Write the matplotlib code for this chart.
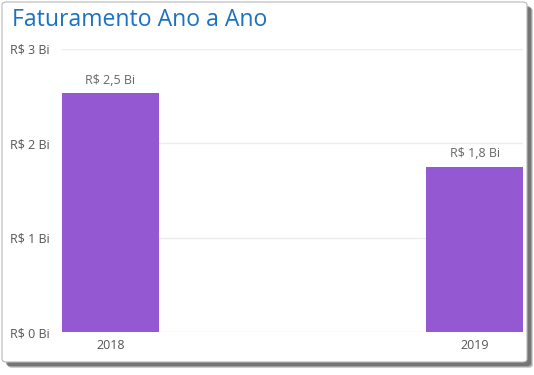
import matplotlib.pyplot as plt
from matplotlib.patches import FancyBboxPatch

anos = ['2018', '2019']
faturamento = [2.53, 1.75]
rotulos = ['R$ 2,5 Bi', 'R$ 1,8 Bi']
yticks = [0, 1, 2, 3]
ylabels = ['R$ 0 Bi', 'R$ 1 Bi', 'R$ 2 Bi', 'R$ 3 Bi']

plt.rcParams['font.family'] = ['Open Sans', 'DejaVu Sans']

W, H = 534, 375
fig = plt.figure(figsize=(W / 100, H / 100), dpi=100)

# card shadow + card
for off, a in [(6, 0.25), (5, 0.35), (4, 0.5)]:
    sh = FancyBboxPatch((2 / W + off / W, 1 - 362 / H - off / H), 525 / W, 360 / H,
                        boxstyle='round,pad=0,rounding_size=0.008',
                        transform=fig.transFigure, fc='#4a4a4a', ec='none', alpha=a,
                        zorder=-2)
    fig.patches.append(sh)
card = FancyBboxPatch((2 / W, 1 - 362 / H), 525 / W, 360 / H,
                      boxstyle='round,pad=0,rounding_size=0.008',
                      transform=fig.transFigure, fc='white', ec='#b8b8b8', lw=0.8,
                      zorder=-1)
fig.patches.append(card)

fig.text(12 / W, 1 - 20 / H, 'Faturamento Ano a Ano', fontsize=16.6, color='#1a72c0',
         va='center', ha='left')

ax = fig.add_axes([62 / W, 1 - 332 / H, 461 / W, 283 / H])
ax.set_zorder(2)
ax.patch.set_alpha(0)
x = range(len(anos))
bars = ax.bar(x, faturamento, width=0.266, color='#9358d2', zorder=3)
for b, r in zip(bars, rotulos):
    ax.text(b.get_x() + b.get_width() / 2, b.get_height() + 0.07, r,
            ha='center', va='bottom', fontsize=9, color='#666666')

ax.set_xlim(-0.133, 1.133)
ax.set_ylim(0, 3)
ax.set_xticks(list(x))
ax.set_xticklabels(anos, fontsize=9, color='#555555')
ax.set_yticks(yticks)
ax.set_yticklabels(ylabels, fontsize=9, color='#555555')
ax.tick_params(axis='y', length=0, pad=9)
ax.tick_params(axis='x', length=0, pad=5)
ax.grid(axis='y', color='#ececec', lw=1, zorder=0)
for s in ax.spines.values():
    s.set_visible(False)

fig.savefig('out.png', dpi=100)
